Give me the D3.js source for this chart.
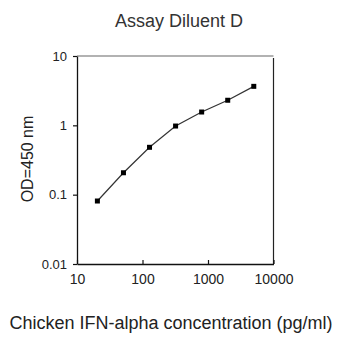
<!DOCTYPE html>
<html><head><meta charset="utf-8">
<script src="https://cdn.jsdelivr.net/npm/d3@7"></script>
<style>
html,body{margin:0;padding:0;background:#fff;}
svg{display:block;font-family:"Liberation Sans",Arial,sans-serif;}
</style></head>
<body>
<script>
const concentrations = [20.48, 51.2, 128, 320, 800, 2000, 5000];
const odValues = [0.081, 0.207, 0.482, 0.977, 1.556, 2.30, 3.65];
const xTicks = [10, 100, 1000, 10000];
const yTicks = [0.01, 0.1, 1, 10];
const yTickLabels = ["0.01", "0.1", "1", "10"];
const title = "Assay Diluent D";
const xLabel = "Chicken IFN-alpha concentration (pg/ml)";
const yLabel = "OD=450 nm";

(function () {
const W = 345, H = 342;
const svg = d3.select("body").append("svg").attr("width", W).attr("height", H);
const pl = 77, pr = 273.5, pt = 56, pb = 264;
const x = d3.scaleLog().domain([10, 10000]).range([pl, pr]);
const y = d3.scaleLog().domain([0.01, 10]).range([pb, pt]);

// frame top/right
svg.append("line").attr("x1", pl).attr("x2", pr).attr("y1", pt).attr("y2", pt)
  .attr("stroke", "#666").attr("stroke-width", 1.2);
svg.append("line").attr("x1", pr).attr("x2", pr).attr("y1", pt + 2).attr("y2", pb)
  .attr("stroke", "#222").attr("stroke-width", 1.2);

const xAxis = svg.append("g").attr("transform", `translate(0,${pb})`)
  .call(d3.axisBottom(x).tickValues(xTicks).tickFormat(d3.format("d")).tickSizeInner(-4).tickSizeOuter(0).tickPadding(10));
const yAxis = svg.append("g").attr("transform", `translate(${pl},0)`)
  .call(d3.axisLeft(y).tickValues(yTicks).tickFormat((d, i) => yTickLabels[i]).tickSizeInner(4).tickSizeOuter(0).tickPadding(6));
[xAxis, yAxis].forEach(g => {
  g.select(".domain").attr("stroke", "#111").attr("stroke-width", 1.3);
  g.selectAll(".tick line").attr("stroke", "#111").attr("stroke-width", 1.2);
  g.selectAll("text").attr("fill", "#222").attr("font-family", "Liberation Sans, Arial, sans-serif");
});
xAxis.selectAll("text").attr("font-size", 14);
yAxis.selectAll("text").attr("font-size", 13);

const pts = concentrations.map((c, i) => [c, odValues[i]]);
svg.append("path").datum(pts)
  .attr("d", d3.line().x(d => x(d[0])).y(d => y(d[1])))
  .attr("fill", "none").attr("stroke", "#333").attr("stroke-width", 1.2);
svg.selectAll("rect.pt").data(pts).enter().append("rect").attr("class", "pt")
  .attr("x", d => x(d[0]) - 2.5).attr("y", d => y(d[1]) - 2.5)
  .attr("width", 5).attr("height", 5).attr("fill", "#000");

svg.append("text").attr("x", 179).attr("y", 27).attr("text-anchor", "middle")
  .attr("font-size", 18).attr("fill", "#333").text(title);
svg.append("text").attr("x", 171).attr("y", 329).attr("text-anchor", "middle")
  .attr("font-size", 18).attr("fill", "#222").text(xLabel);
svg.append("text").attr("transform", "translate(33,159) rotate(-90)").attr("text-anchor", "middle")
  .attr("font-size", 16).attr("fill", "#222").text(yLabel);
})();
</script>
</body></html>
